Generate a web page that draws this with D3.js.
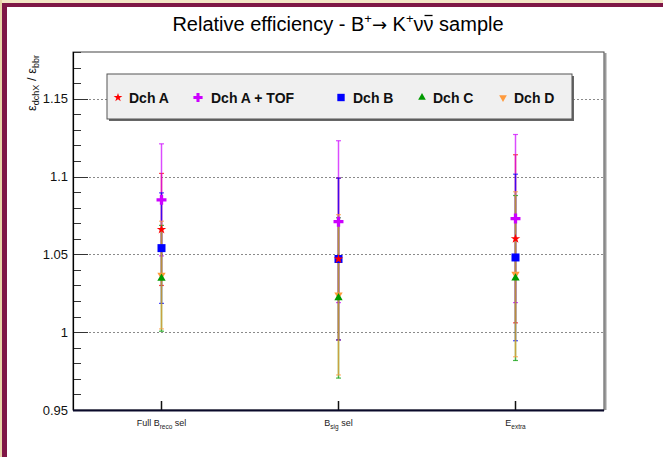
<!DOCTYPE html>
<html>
<head>
<meta charset="utf-8">
<script src="https://cdn.jsdelivr.net/npm/d3@7"></script>
<style>
  html, body { margin: 0; padding: 0; background: #fff; }
  svg { display: block; font-family: "Liberation Sans", Arial, Helvetica, sans-serif; }
</style>
</head>
<body>
<svg id="chart" width="663" height="457"></svg>
<script>
// ---- data ----
const categories = ["Full B_reco sel", "B_sig sel", "E_extra"];
const catMain   = ["Full B", "B", "E"];
const catSub    = ["reco", "sig", "extra"];
const catSuffix = [" sel", " sel", ""];

const seriesNames = ["Dch A", "Dch A + TOF", "Dch B", "Dch C", "Dch D"];
const dchA     = [1.066, 1.047, 1.060];
const dchAErr  = [0.036, 0.052, 0.054];
const dchATof  = [1.085, 1.071, 1.073];
const dchATofErr = [0.036, 0.052, 0.054];
const dchB     = [1.054, 1.047, 1.048];
const dchBErr  = [0.0355, 0.052, 0.0535];
const dchC     = [1.0346, 1.022, 1.0348];
const dchCErr  = [0.034, 0.0515, 0.053];
const dchD     = [1.0367, 1.024, 1.0372];
const dchDErr  = [0.0346, 0.0515, 0.053];

const yTicks = [0.95, 1.0, 1.05, 1.1, 1.15];
const yTickLabels = ["0.95", "1", "1.05", "1.1", "1.15"];
const gridValues = [1.0, 1.05, 1.1, 1.15];

// ---- styles ----
const colors  = ["#ff0000", "#cc00ff", "#0000ff", "#009a00", "#ff9a3c"];
const symbols = [d3.symbolStar, d3.symbolCross, d3.symbolSquare, d3.symbolTriangle, d3.symbolTriangle];
const symSize = [28, 55, 64, 30, 30];
const symRot  = [0, 0, 0, 0, 180];

const series = [
  {v: dchA, e: dchAErr}, {v: dchATof, e: dchATofErr}, {v: dchB, e: dchBErr},
  {v: dchC, e: dchCErr}, {v: dchD, e: dchDErr}
].map((s, i) => ({name: seriesNames[i], values: s.v, errs: s.e, color: colors[i], sym: symbols[i], size: symSize[i], rot: symRot[i]}));

const svg = d3.select("#chart");
const W = 663, H = 457;

// ---- outer frame ----
svg.append("rect").attr("x", 0).attr("y", 0).attr("width", W).attr("height", H).attr("fill", "#fff");
svg.append("rect").attr("x", 0).attr("y", 0).attr("width", W).attr("height", 3).attr("fill", "#f3e6c6");
svg.append("rect").attr("x", 0).attr("y", 0).attr("width", 2).attr("height", H).attr("fill", "#e8d5a8");
svg.append("rect").attr("x", 2).attr("y", 3).attr("width", W - 2).attr("height", 4).attr("fill", "#7f1746");
svg.append("rect").attr("x", 2).attr("y", 3).attr("width", 5).attr("height", H - 3).attr("fill", "#7f1746");

// ---- plot geometry ----
const pL = 73, pR = 604, pT = 52, pB = 410;
const x = d3.scaleBand().domain(categories).range([pL, pR]);
const y = d3.scaleLinear().domain([0.95, 1.18]).range([pB, pT]);
const cx = c => x(c) + x.bandwidth() / 2;

// frame shadow + frame
svg.append("line").attr("x1", pR + 1.5).attr("x2", pR + 1.5).attr("y1", pT + 1).attr("y2", pB)
  .attr("stroke", "#9a9a9a").attr("stroke-width", 2);
svg.append("rect").attr("x", pL).attr("y", pT).attr("width", pR - pL).attr("height", pB - pT)
  .attr("fill", "none").attr("stroke", "#444").attr("stroke-width", 1);

// grid
svg.append("g").selectAll("line").data(gridValues).join("line")
  .attr("x1", pL).attr("x2", pR)
  .attr("y1", d => Math.round(y(d)) + 0.5).attr("y2", d => Math.round(y(d)) + 0.5)
  .attr("stroke", "#8a8a8a").attr("stroke-width", 1).attr("stroke-dasharray", "2,2");

// y axis
const yAxis = d3.axisLeft(y).tickValues(yTicks).tickFormat((d, i) => yTickLabels[i]).tickSize(0).tickPadding(5);
const gy = svg.append("g").attr("transform", `translate(${pL},0)`).call(yAxis);
gy.select(".domain").remove();
gy.selectAll("text").attr("font-size", 13).attr("fill", "#111").attr("font-family", "Liberation Sans, Arial, sans-serif");
const minorTicks = d3.range(0.95, 1.1801, 0.01).map(v => +v.toFixed(2));
svg.append("g").selectAll("line").data(minorTicks).join("line")
  .attr("x1", pL).attr("x2", d => pL + (yTicks.some(t => Math.abs(t - d) < 1e-6) ? 15 : 8))
  .attr("y1", d => Math.round(y(d)) + 0.5).attr("y2", d => Math.round(y(d)) + 0.5)
  .attr("stroke", "#333").attr("stroke-width", 1);
svg.append("line").attr("x1", pL + 0.5).attr("x2", pL + 0.5).attr("y1", pT).attr("y2", pB)
  .attr("stroke", "#000").attr("stroke-width", 1.2);

// x axis
const gx = svg.append("g").attr("transform", `translate(0,${pB})`)
  .call(d3.axisBottom(x).tickSize(0).tickFormat(""));
gx.select(".domain").remove();
svg.append("g").selectAll("line").data(categories).join("line")
  .attr("x1", d => cx(d)).attr("x2", d => cx(d)).attr("y1", pB - 9).attr("y2", pB)
  .attr("stroke", "#111").attr("stroke-width", 1.5);
svg.append("line").attr("x1", pL).attr("x2", pR).attr("y1", pB + 0.5).attr("y2", pB + 0.5)
  .attr("stroke", "#0a0a2a").attr("stroke-width", 2);
const xl = svg.append("g").selectAll("text").data(categories).join("text")
  .attr("x", d => cx(d)).attr("y", pB + 16).attr("text-anchor", "middle")
  .attr("font-size", 9).attr("fill", "#222");
xl.each(function(d, i) {
  const t = d3.select(this);
  t.append("tspan").text(catMain[i]);
  t.append("tspan").attr("font-size", 6.5).attr("dy", 2.5).text(catSub[i]);
  t.append("tspan").attr("dy", -2.5).text(catSuffix[i]);
});

// y title
const yt = svg.append("text").attr("transform", `translate(36,55) rotate(-90)`).attr("text-anchor", "end")
  .attr("font-size", 13).attr("fill", "#111");
yt.append("tspan").text("ε");
yt.append("tspan").attr("font-size", 9).attr("dy", 3).text("dchX");
yt.append("tspan").attr("dy", -3).text(" / ε");
yt.append("tspan").attr("font-size", 9).attr("dy", 3).text("bbr");

// title
const tt = svg.append("text").attr("x", 338).attr("y", 31).attr("text-anchor", "middle")
  .attr("font-size", 20).attr("fill", "#000");
tt.append("tspan").text("Relative efficiency - B");
tt.append("tspan").attr("font-size", 13).attr("dy", -8).text("+");
tt.append("tspan").attr("dy", 8).attr("font-family", "DejaVu Sans").attr("font-size", 18).text("\u2192");
tt.append("tspan").text(" K");
tt.append("tspan").attr("font-size", 13).attr("dy", -8).text("+");
tt.append("tspan").attr("dy", 8).text("\u03BD");
const nuBar = tt.append("tspan").text("\u03BD");
tt.append("tspan").text(" sample");
const nb = nuBar.node().getBBox();
svg.append("line").attr("x1", nb.x + 1).attr("x2", nb.x + nb.width - 1)
  .attr("y1", 15.5).attr("y2", 15.5).attr("stroke", "#000").attr("stroke-width", 1.3);

// legend
const legX0 = 107, legY0 = 74, legW = 465, legH = 45;
svg.append("rect").attr("x", legX0 + 2).attr("y", legY0 + 2).attr("width", legW).attr("height", legH).attr("fill", "#666");
svg.append("rect").attr("x", legX0).attr("y", legY0).attr("width", legW).attr("height", legH)
  .attr("fill", "#f0f0f0").attr("stroke", "#555").attr("stroke-width", 1);
const legMarkX = [118, 198, 341, 422, 503];
const legTextX = [129, 211, 353, 433, 514];
const legY = 97.5;
series.forEach((s, i) => {
  svg.append("path").attr("d", d3.symbol().type(s.sym).size(s.size * 0.85)())
    .attr("transform", `translate(${legMarkX[i]},${legY}) rotate(${s.rot})`).attr("fill", s.color);
  svg.append("text").attr("x", legTextX[i]).attr("y", legY + 5).attr("font-size", 14).attr("font-weight", "bold")
    .attr("fill", "#111").text(s.name);
});

// error bars
const gErr = svg.append("g");
series.forEach(s => {
  const pts = categories.map((c, j) => ({c, v: s.values[j], e: s.errs[j]}));
  const g = gErr.append("g").attr("stroke", s.color).attr("stroke-opacity", 0.7);
  g.selectAll("line.bar").data(pts).join("line").attr("class", "bar")
    .attr("x1", d => cx(d.c)).attr("x2", d => cx(d.c))
    .attr("y1", d => y(d.v + d.e)).attr("y2", d => y(d.v - d.e)).attr("stroke-width", 1.5);
  g.selectAll("line.capt").data(pts).join("line").attr("class", "capt")
    .attr("x1", d => cx(d.c) - 2.5).attr("x2", d => cx(d.c) + 2.5)
    .attr("y1", d => y(d.v + d.e)).attr("y2", d => y(d.v + d.e)).attr("stroke-width", 1.2);
  g.selectAll("line.capb").data(pts).join("line").attr("class", "capb")
    .attr("x1", d => cx(d.c) - 2.5).attr("x2", d => cx(d.c) + 2.5)
    .attr("y1", d => y(d.v - d.e)).attr("y2", d => y(d.v - d.e)).attr("stroke-width", 1.2);
});

// markers (drawn in reverse so Dch A sits on top)
const gMk = svg.append("g");
[...series].reverse().forEach(s => {
  gMk.append("g").selectAll("path").data(categories.map((c, j) => ({c, v: s.values[j]}))).join("path")
    .attr("d", d3.symbol().type(s.sym).size(s.size)())
    .attr("transform", d => `translate(${cx(d.c)},${y(d.v)}) rotate(${s.rot})`)
    .attr("fill", s.color);
});
</script>
</body>
</html>
